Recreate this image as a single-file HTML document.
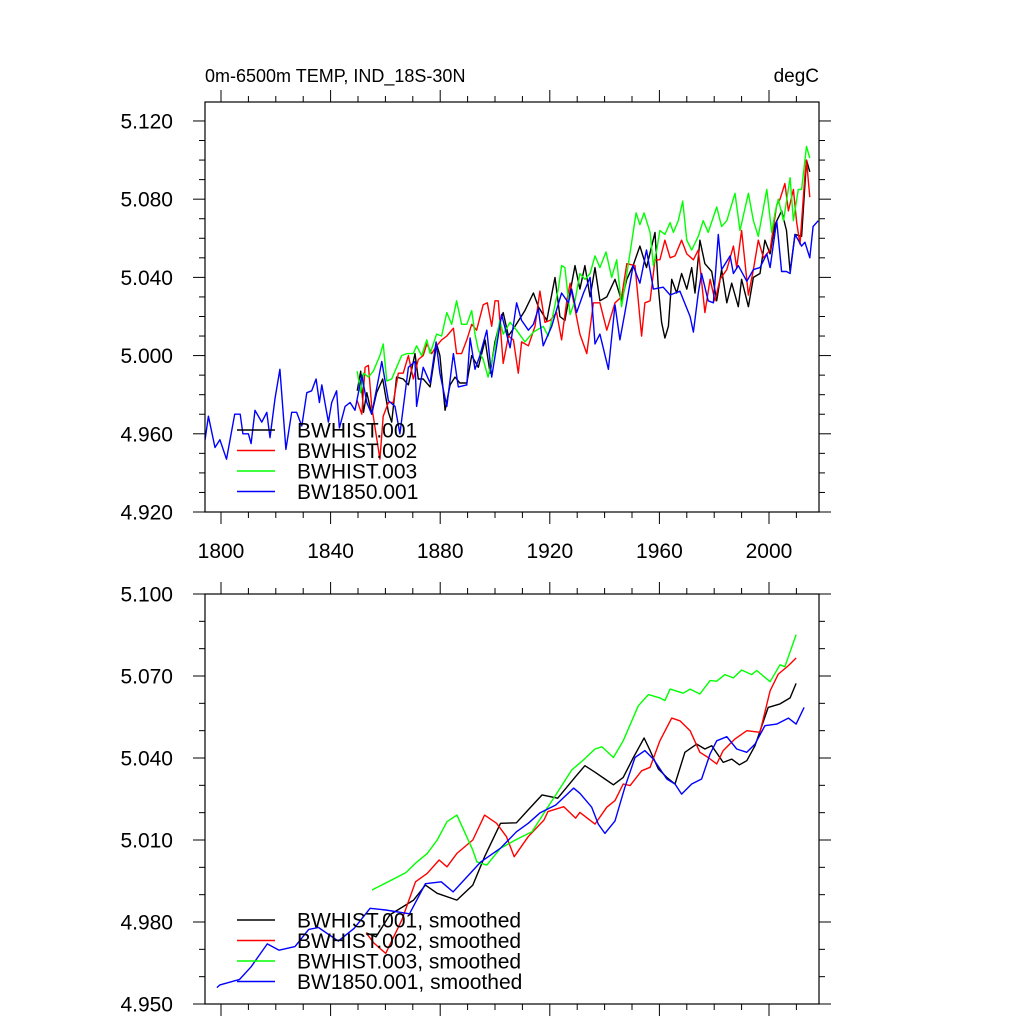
<!DOCTYPE html>
<html><head><meta charset="utf-8">
<style>
html,body{margin:0;padding:0;background:#fff;}
svg{display:block;font-family:"Liberation Sans",sans-serif;}
</style></head>
<body>
<svg id="chart" width="1024" height="1024" viewBox="0 0 1024 1024">
<text x="205" y="82" font-size="18">0m-6500m TEMP, IND_18S-30N</text>
<text x="819" y="82" font-size="19" text-anchor="end">degC</text>
</svg>
<script>
// ---- data (top panel, annual) ----
const blueRawYears=[1794.2,1795.4,1797.8,1799.6,1802,1805,1807,1808,1810,1811,1812.4,1814.9,1816.7,1817.9,1819.7,1821.5,1823.7,1825.8,1827.6,1829.5,1831.3,1833.1,1834.7,1835.9,1836.8,1839.2,1840.4,1842.2,1843.2,1845.3,1847.1,1848.9,1851.4,1853.2,1855,1858.7,1861.1,1863.5,1865.3,1868.4,1870.8,1871.4,1873.8,1876.3,1878.5,1879.9,1882.4,1884.8,1886.6,1889.7,1890.9,1892.7,1894.5,1897,1898.8,1902.4,1905.5,1907.9,1909.7,1912.2,1914,1915.8,1917.6,1920.7,1924.3,1926.8,1928,1929.8,1932.3,1934.7,1936.5,1938.3,1941.4,1943.8,1945.6,1947.4,1950.4,1952.9,1955.3,1957.8,1961.4,1963.9,1967.5,1971.2,1972.4,1974.2,1975.4,1977.8,1979.7,1981.5,1982.7,1985.8,1987,1988.8,1991.9,1994.3,1996.7,1999.2,2000.4,2002.8,2004.6,2006.4,2007.7,2009.5,2010.7,2011.9,2013.1,2014.9,2016.1,2018];
const blueRawVals=[4.957,4.969,4.953,4.957,4.947,4.970,4.970,4.960,4.960,4.955,4.972,4.966,4.971,4.958,4.978,4.993,4.952,4.971,4.971,4.964,4.981,4.982,4.988,4.976,4.985,4.966,4.976,4.982,4.963,4.974,4.976,4.972,4.990,4.976,4.970,4.997,4.977,4.974,4.960,4.994,4.997,4.974,4.994,4.986,5.007,4.991,4.974,5.001,4.984,4.985,5.009,4.993,5.000,5.013,4.989,5.021,5.004,5.027,5.018,5.013,5.016,5.024,5.005,5.015,5.032,5.027,5.034,5.022,5.032,5.040,5.006,5.011,4.993,5.026,5.008,5.022,5.046,5.037,5.054,5.034,5.035,5.031,5.033,5.020,5.012,5.032,5.042,5.028,5.027,5.062,5.044,5.051,5.042,5.046,5.038,5.044,5.045,5.052,5.045,5.069,5.043,5.043,5.042,5.062,5.059,5.056,5.058,5.050,5.066,5.069];
const blackRawYears=[1849.7,1851,1852,1853.2,1855,1856.8,1859,1861.1,1862.3,1864.1,1866.5,1868.4,1870.8,1872,1873.8,1876.3,1878.7,1879.9,1881.8,1883.6,1885.4,1887.2,1889.7,1891.5,1893.9,1896.4,1898.2,1900,1901.8,1903,1904.9,1907.3,1910.9,1914,1915.8,1918.9,1921.9,1923.7,1925.5,1929.2,1931,1932.8,1934.7,1936.5,1938.3,1940.8,1943.8,1946.2,1948.1,1950.4,1952.9,1955.3,1958.4,1959.6,1960.8,1962,1963.3,1964.5,1966.3,1968.1,1970,1971.8,1973,1974.8,1976.6,1979.1,1980.9,1982.7,1984.6,1986.4,1988.8,1990,1992.5,1994.3,1996.7,1998.5,2000.4,2002.2,2004.6,2006.4,2007.7,2009.5,2011.9,2013.7,2014.9];
const blackRawVals=[4.982,4.992,4.971,4.981,4.970,4.981,4.988,4.971,4.966,4.989,4.988,4.985,5.001,4.988,4.988,4.984,5.006,5.000,4.972,4.985,4.989,4.986,4.986,5.000,4.994,5.008,4.991,5.007,5.017,5.022,5.010,5.015,5.023,5.032,5.025,5.018,5.040,5.020,5.018,5.046,5.034,5.046,5.030,5.045,5.028,5.030,5.039,5.028,5.039,5.046,5.056,5.045,5.063,5.035,5.017,5.009,5.015,5.039,5.032,5.042,5.034,5.045,5.032,5.059,5.047,5.043,5.028,5.044,5.027,5.037,5.025,5.039,5.025,5.040,5.042,5.059,5.052,5.067,5.074,5.064,5.043,5.062,5.061,5.100,5.094];
const redRawYears=[1849.7,1851.4,1852.6,1853.8,1855,1856.8,1858,1859.2,1861.1,1862.9,1864.7,1866.5,1868.4,1870.2,1872,1873.8,1875.1,1876.9,1878.7,1880.5,1882.4,1884.8,1886,1887.8,1889.7,1891.5,1893.3,1895.7,1897.2,1898.8,1900,1901.2,1903,1904.9,1906.7,1908.5,1909.7,1912.2,1914.6,1916.4,1918.2,1920.1,1922.5,1924.3,1926.2,1927.4,1928.6,1931,1933.5,1935.9,1938.3,1940.8,1943.8,1946.2,1948.1,1951.1,1953.5,1954.7,1956.6,1958.4,1960.2,1962,1963.9,1965.7,1968.1,1970,1972.4,1974.2,1976.6,1978.5,1980.3,1982.1,1984.6,1987,1988.2,1990,1992.5,1994.3,1996.1,1998,2000.4,2002.8,2004,2005.8,2007.1,2008.9,2010.1,2011.3,2013.1,2013.7,2014.9];
const redRawVals=[4.977,4.970,4.994,4.995,4.974,4.958,4.947,4.969,4.976,4.976,4.991,4.991,5.000,4.988,4.998,5.000,5.006,5.001,5.005,5.008,5.010,5.014,5.001,5.001,5.008,5.016,5.013,5.026,5.027,5.015,5.028,5.028,4.996,5.010,5.008,4.991,5.007,5.005,5.015,5.033,5.017,5.018,5.022,5.008,5.028,5.037,5.028,5.011,5.001,5.027,5.027,5.013,5.027,5.030,5.047,5.046,5.010,5.027,5.028,5.049,5.049,5.059,5.050,5.051,5.059,5.052,5.049,5.054,5.022,5.039,5.028,5.039,5.044,5.056,5.045,5.064,5.031,5.044,5.059,5.050,5.054,5.077,5.080,5.088,5.074,5.085,5.068,5.057,5.092,5.100,5.081];
const greenRawYears=[1849.7,1851,1852,1853.8,1855.6,1858,1859.2,1860.5,1862.3,1864.1,1865.9,1867.8,1870.2,1871.4,1873.2,1875.1,1876.3,1878.7,1880.5,1882.4,1884.2,1886,1887.8,1889.7,1891.5,1892.7,1893.9,1895.7,1897.5,1899.3,1901.8,1903,1905.5,1907.9,1910.9,1914,1917.6,1919.4,1921.3,1923.1,1924.3,1925.5,1927.4,1929.2,1931,1932.8,1934.7,1936.5,1938.3,1940.5,1942.6,1944.4,1946.2,1948.7,1951.5,1952.9,1954.4,1956.6,1957.8,1959,1960.2,1962,1963.9,1965.1,1966.9,1968.5,1970,1971.8,1974.2,1976,1977.8,1980.9,1982.7,1984.6,1987.6,1989.4,1992.5,1994.3,1996.1,1999.2,2001,2002.2,2003.4,2005.3,2007.7,2008.9,2010.7,2011.9,2013.7,2014.9];
const greenRawVals=[4.992,4.981,4.991,4.989,4.992,5.000,5.006,4.987,4.988,4.994,5.000,5.001,5.001,5.005,5.000,5.008,5.001,5.011,5.010,5.022,5.016,5.028,5.016,5.016,5.023,5.011,5.003,4.998,4.989,5.000,5.018,5.011,5.017,5.013,5.007,5.012,5.015,5.010,5.022,5.034,5.046,5.045,5.021,5.028,5.042,5.039,5.042,5.051,5.045,5.053,5.040,5.049,5.025,5.047,5.073,5.067,5.073,5.063,5.046,5.054,5.064,5.062,5.068,5.063,5.069,5.079,5.059,5.054,5.061,5.069,5.063,5.076,5.066,5.069,5.083,5.064,5.083,5.069,5.061,5.085,5.063,5.073,5.080,5.069,5.091,5.069,5.085,5.085,5.107,5.101];
// ---- data (bottom panel, smoothed) ----
const blackSmYears=[1853,1856.6,1861.6,1870.3,1874.6,1878.9,1886.1,1891.9,1896.2,1902,1907.8,1912.1,1917.2,1922.9,1929.4,1932.8,1936.5,1940.1,1943.2,1946.8,1950.5,1954.4,1956.6,1959.6,1962.7,1965.7,1969.3,1973.6,1976.6,1979.1,1983.3,1986.4,1989.2,1991.9,1994.9,1999.7,2004,2007.7,2009.9];
const blackSmVals=[4.976,4.9746,4.9826,4.988,4.9935,4.9905,4.988,4.9935,5.0039,5.0161,5.0163,5.021,5.0265,5.0253,5.0332,5.0372,5.0348,5.0323,5.0302,5.0329,5.0402,5.0473,5.0427,5.036,5.0329,5.0305,5.0421,5.0451,5.0433,5.0445,5.0384,5.0396,5.0375,5.039,5.0445,5.0585,5.0598,5.062,5.0673];
const redSmYears=[1853,1855.8,1860.1,1866,1871,1875.3,1879.6,1882.5,1886.1,1891.9,1896.2,1900.6,1904.2,1907,1912.1,1917.9,1919.3,1925.1,1929.4,1931,1936.5,1940.8,1943.8,1946.8,1949.3,1953.5,1956.6,1960.2,1964.5,1967.5,1971.2,1974.8,1977.8,1980.9,1983.3,1987.6,1991.9,1996.7,2000.4,2003.4,2007.1,2009.9];
const redSmVals=[4.976,4.9723,4.9685,4.9807,4.9947,4.9978,5.0027,5.0002,5.0051,5.01,5.0191,5.0161,5.0112,5.0039,5.0112,5.0173,5.0204,5.0222,5.018,5.0201,5.0158,5.022,5.0244,5.0305,5.0299,5.0353,5.0366,5.0463,5.0546,5.0536,5.05,5.0421,5.0402,5.0378,5.0427,5.047,5.05,5.0494,5.0646,5.0707,5.0738,5.0766];
const greenSmYears=[1855.1,1867.4,1871,1875.3,1878.9,1882.5,1886.1,1891.9,1893.4,1897,1902,1907.8,1913.5,1918.6,1922.2,1928,1932.3,1936.5,1939,1943.2,1946.8,1952.3,1956,1960.2,1962,1963.9,1968.7,1971.2,1974.8,1978.5,1980.9,1983.9,1987,1990,1993.7,1995.5,2000.4,2004,2005.8,2009.9];
const greenSmVals=[4.9917,4.998,5.0015,5.0051,5.01,5.0167,5.0191,5.0063,5.002,5.0008,5.007,5.0102,5.013,5.021,5.0265,5.0356,5.0393,5.0433,5.0441,5.0402,5.0463,5.0591,5.0632,5.062,5.061,5.0652,5.0637,5.0652,5.0634,5.0683,5.0681,5.0705,5.0693,5.0722,5.0705,5.072,5.0679,5.0741,5.0734,5.0851];
const blueSmYears=[1798.5,1799.6,1806.8,1811,1816.9,1821.2,1827,1832,1835.6,1842.8,1848.6,1854.4,1860.1,1868.8,1874.6,1880.4,1884.7,1894.8,1902,1907.8,1912.1,1916.5,1922.2,1928.7,1931,1935.3,1937.7,1940.1,1943.8,1947.4,1951.1,1954.7,1957.8,1962.7,1965.7,1968.1,1971.8,1975.4,1978.5,1980.9,1984.6,1988.2,1991.9,1994.9,1998.5,2002.8,2007.1,2009.9,2012.8];
const blueSmVals=[4.956,4.957,4.959,4.9636,4.972,4.9697,4.971,4.9773,4.978,4.973,4.9777,4.985,4.9844,4.983,4.994,4.9947,4.991,5.002,5.007,5.013,5.0161,5.020,5.0228,5.029,5.0271,5.022,5.0158,5.0124,5.017,5.0293,5.0402,5.0427,5.0396,5.0323,5.0305,5.0268,5.0305,5.0323,5.0415,5.0463,5.0478,5.0433,5.0421,5.0451,5.0518,5.0524,5.0546,5.0524,5.0585];
const xTickYears=[1800,1840,1880,1920,1960,2000];
const topYTicks=[5.120,5.080,5.040,5.000,4.960,4.920];
const botYTicks=[5.100,5.070,5.040,5.010,4.980,4.950];
const topLegend=["BWHIST.001","BWHIST.002","BWHIST.003","BW1850.001"];
const botLegend=["BWHIST.001, smoothed","BWHIST.002, smoothed","BWHIST.003, smoothed","BW1850.001, smoothed"];

// ---- rendering ----
const NS="http://www.w3.org/2000/svg";
const svg=document.getElementById('chart');
const X0=205,X1=819,YR0=1794.16,YR1=2018.25;
function xs(yr){return X0+(yr-YR0)/(YR1-YR0)*(X1-X0);}
function mk(tag,attrs,parent){const e=document.createElementNS(NS,tag);for(const k in attrs)e.setAttribute(k,attrs[k]);(parent||svg).appendChild(e);return e;}
const colors=["#000000","#ff0000","#00ff00","#0000ff"];

function panel(name,top,bottom,vmin,vmax,majorTicks,minorStep,showXLabels,series,legendLabels,legendY){
  const g=mk('g',{});
  
  
  const ys=v=>bottom-(v-vmin)/(vmax-vmin)*(bottom-top);
  const names=["series-bwhist-001","series-bwhist-002","series-bwhist-003","series-bw1850-001"];
  series.forEach((s,i)=>{
    let d='';
    s[0].forEach((yr,j)=>{d+=(j?'L':'M')+xs(yr).toFixed(1)+','+ys(s[1][j]).toFixed(1);});
    const p=mk('path',{d:d,fill:'none',stroke:colors[i],'stroke-width':1.4,'stroke-linejoin':'round'},g);
    
    
  });
  const fr=mk('rect',{x:X0,y:top,width:X1-X0,height:bottom-top,fill:'none',stroke:'#000','stroke-width':1.2},g);
  
  
  for(let yr=1800;yr<=2010;yr+=10){
    const maj=(yr-1800)%40===0;const L=maj?12:6;const x=xs(yr);
    mk('line',{x1:x,y1:bottom,x2:x,y2:bottom+L,stroke:'#000','stroke-width':1},g);
    mk('line',{x1:x,y1:top,x2:x,y2:top-L,stroke:'#000','stroke-width':1},g);
  }
  if(showXLabels){
    xTickYears.forEach(yr=>{
      const t=mk('text',{x:xs(yr),y:bottom+46,'font-size':21,'text-anchor':'middle'},g);
      t.textContent=yr;
      
      
    });
  }
  const n=Math.round((vmax-vmin)/minorStep);
  for(let k=0;k<=n;k++){
    const v=vmin+k*minorStep;const y=ys(v);if(y<top-0.5)continue;
    const maj=majorTicks.some(m=>Math.abs(m-v)<1e-6);const L=maj?12:6;
    mk('line',{x1:X0,y1:y,x2:X0-L,y2:y,stroke:'#000','stroke-width':1},g);
    mk('line',{x1:X1,y1:y,x2:X1+L,y2:y,stroke:'#000','stroke-width':1},g);
  }
  majorTicks.forEach(v=>{
    const t=mk('text',{x:173,y:ys(v)+7.5,'font-size':21,'text-anchor':'end'},g);
    t.textContent=v.toFixed(3);
    
    
  });
  legendLabels.forEach((lab,i)=>{
    const y=legendY+i*20.5;
    const l=mk('line',{x1:237,y1:y,x2:275,y2:y,stroke:colors[i],'stroke-width':1.4},g);
    
    
    const t=mk('text',{x:297,y:y+7.5,'font-size':21},g);
    t.textContent=lab;
    
    
  });
}
panel('top-panel',102,512,4.92,5.1297,topYTicks,0.01,true,
  [[blackRawYears,blackRawVals],[redRawYears,redRawVals],[greenRawYears,greenRawVals],[blueRawYears,blueRawVals]],topLegend,430);
panel('bottom-panel',594,1004,4.95,5.10,botYTicks,0.01,false,
  [[blackSmYears,blackSmVals],[redSmYears,redSmVals],[greenSmYears,greenSmVals],[blueSmYears,blueSmVals]],botLegend,920);
</script>
</body></html>
